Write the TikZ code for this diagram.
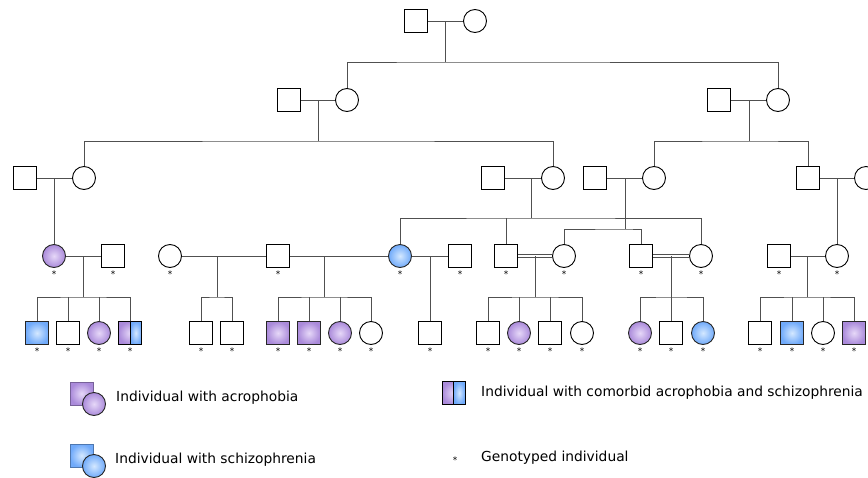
\documentclass[tikz,border=0pt]{standalone}
\usepackage{fontspec}
\setmainfont{DejaVu Sans}
\usetikzlibrary{calc}

\definecolor{acroL}{RGB}{230,216,248}
\definecolor{acroD}{RGB}{170,138,218}
\definecolor{schizL}{RGB}{212,232,255}
\definecolor{schizD}{RGB}{112,170,250}
\definecolor{pedline}{RGB}{80,80,80}

\tikzset{
  male/.style={draw=black, fill=white, rectangle, minimum size=23pt, inner sep=0pt, line width=0.9pt},
  female/.style={draw=black, fill=white, circle, minimum size=23pt, inner sep=0pt, line width=0.9pt},
  acro/.style={draw=black!85, inner color=acroL, outer color=acroD},
  schiz/.style={draw=black!85, inner color=schizL, outer color=schizD},
  both/.style={path picture={
      \shade[inner color=acroL, outer color=acroD] (path picture bounding box.south west) rectangle (path picture bounding box.north);
      \shade[inner color=schizL, outer color=schizD] (path picture bounding box.south) rectangle (path picture bounding box.north east);
      \draw[black, line width=0.9pt] (path picture bounding box.south) -- (path picture bounding box.north);}},
  geno/.style={label={[label distance=1.5pt, inner sep=1pt, font=\fontsize{9}{9}\selectfont]below:*}},
  link/.style={draw=pedline, line width=1pt},
  kin/.style={draw=pedline, line width=0.9pt, double, double distance=2pt},
  legtext/.style={anchor=west, inner sep=0pt, font=\fontsize{13.8}{16}\selectfont},
}

\begin{document}
\begin{tikzpicture}[x=1pt, y=-1pt]
\useasboundingbox (0,0) rectangle (868,477);

% generation I
\node[male] (I1) at (416,21) {};
\node[female] (I2) at (475,21) {};

% generation II
\node[male] (II1) at (289,100) {};
\node[female] (II2) at (347,100) {};
\node[male] (II3) at (719,100) {};
\node[female] (II4) at (778,100) {};

% generation III
\node[male] (III1) at (25,178) {};
\node[female] (III2) at (84,178) {};
\node[male] (III3) at (493,178) {};
\node[female] (III4) at (553,178) {};
\node[male] (III5) at (595,178) {};
\node[female] (III6) at (654,178) {};
\node[male] (III7) at (808,178) {};
\node[female] (III8) at (866,178) {};

% generation IV
\node[female, acro, geno] (IV1) at (54,256) {};
\node[male, geno] (IV2) at (113,256) {};
\node[female, geno] (IV3) at (170,256) {};
\node[male, geno] (IV4) at (278,256) {};
\node[female, schiz, geno] (IV5) at (400,256) {};
\node[male, geno] (IV6) at (460,256) {};
\node[male, geno] (IV7) at (506,256) {};
\node[female, geno] (IV8) at (564,256) {};
\node[male, geno] (IV9) at (641,256) {};
\node[female, geno] (IV10) at (701,256) {};
\node[male, geno] (IV11) at (779,256) {};
\node[female, geno] (IV12) at (837,256) {};

% generation V
\node[male, schiz, geno] (V1) at (37,333) {};
\node[male, geno] (V2) at (68,333) {};
\node[female, acro, geno] (V3) at (99,333) {};
\node[male, both, geno] (V4) at (130,333) {};
\node[male, geno] (V5) at (201,333) {};
\node[male, geno] (V6) at (232,333) {};
\node[male, acro, geno] (V7) at (278,333) {};
\node[male, acro, geno] (V8) at (309,333) {};
\node[female, acro, geno] (V9) at (340,333) {};
\node[female, geno] (V10) at (371,333) {};
\node[male, geno] (V11) at (430,333) {};
\node[male, geno] (V12) at (488,333) {};
\node[female, acro, geno] (V13) at (519,333) {};
\node[male, geno] (V14) at (550,333) {};
\node[female, geno] (V15) at (582,333) {};
\node[female, acro, geno] (V16) at (640,333) {};
\node[male, geno] (V17) at (671,333) {};
\node[female, schiz, geno] (V18) at (703,333) {};
\node[male, geno] (V19) at (760,333) {};
\node[male, schiz, geno] (V20) at (792,333) {};
\node[female, geno] (V21) at (823,333) {};
\node[male, acro, geno] (V22) at (854,333) {};

% sibship junctions
\coordinate (sI1) at (445,62);
\coordinate (sII1) at (318,141);
\coordinate (sII3) at (749,141);
\coordinate (sIII3) at (531,218);
\coordinate (sIII5) at (625,229);
\coordinate (sIV1) at (83,297);
\coordinate (sIV3) at (217,297);
\coordinate (sIV4) at (324,297);
\coordinate (sIV7) at (535,297);
\coordinate (sIV9) at (671,297);
\coordinate (sIV11) at (807,297);

% marriages
\draw[link] (I1) -- (I2);
\draw[link] (II1) -- (II2);
\draw[link] (II3) -- (II4);
\draw[link] (III1) -- (III2);
\draw[link] (III3) -- (III4);
\draw[link] (III5) -- (III6);
\draw[link] (III7) -- (III8);
\draw[link] (IV1) -- (IV2);
\draw[link] (IV3) -- (IV4);
\draw[link] (IV4) -- (IV5);
\draw[link] (IV5) -- (IV6);
\draw[kin] (IV7) -- (IV8);
\draw[kin] (IV9) -- (IV10);
\draw[link] (IV11) -- (IV12);

% descent lines
\draw[link] (sI1 |- I1) -- (sI1);
\draw[link] (II2.north) |- (sI1) -| (II4.north);
\draw[link] (sII1 |- II1) -- (sII1);
\draw[link] (III2.north) |- (sII1) -| (III4.north);
\draw[link] (sII3 |- II3) -- (sII3);
\draw[link] (III6.north) |- (sII3) -| (III7.north);
\draw[link] (IV1 |- III1) -- (IV1);
\draw[link] (sIII3 |- III3) -- (sIII3);
\draw[link] (IV5.north) |- (sIII3) -| (IV10.north);
\draw[link] (IV7.north) -- (IV7.north |- sIII3);
\draw[link] (sIII5 |- III5) -- (sIII5);
\draw[link] (IV8.north) |- (sIII5) -| (IV9.north);
\draw[link] (IV12 |- III7) -- (IV12);

\draw[link] (sIV1 |- IV1) -- (sIV1);
\draw[link] (V1.north) |- (sIV1) -| (V4.north);
\foreach \c in {V2,V3} \draw[link] (\c.north) -- (\c.north |- sIV1);
\draw[link] (sIV3 |- IV3) -- (sIV3);
\draw[link] (V5.north) |- (sIV3) -| (V6.north);
\draw[link] (sIV4 |- IV4) -- (sIV4);
\draw[link] (V7.north) |- (sIV4) -| (V10.north);
\foreach \c in {V8,V9} \draw[link] (\c.north) -- (\c.north |- sIV4);
\draw[link] (V11 |- IV5) -- (V11);
\draw[link] (sIV7 |- IV7) -- (sIV7);
\draw[link] (V12.north) |- (sIV7) -| (V15.north);
\foreach \c in {V13,V14} \draw[link] (\c.north) -- (\c.north |- sIV7);
\draw[link] (sIV9 |- IV9) -- (sIV9);
\draw[link] (V16.north) |- (sIV9) -| (V18.north);
\draw[link] (V17.north) -- (V17.north |- sIV9);
\draw[link] (sIV11 |- IV11) -- (sIV11);
\draw[link] (V19.north) |- (sIV11) -| (V22.north);
\foreach \c in {V20,V21} \draw[link] (\c.north) -- (\c.north |- sIV11);

% legend
\node[male, acro, draw=acroD!70!black] (legAs) at (81.5,393.5) {};
\node[female, acro] (legAc) at (94,404) {};
\node[legtext] (legA) at (116,398) {Individual with acrophobia};
\node[male, schiz, draw=schizD!70!black] (legSs) at (81.5,455.5) {};
\node[female, schiz] (legSc) at (94,466) {};
\node[legtext] (legS) at (115,460) {Individual with schizophrenia};
\node[male, both] (legB) at (453.5,393) {};
\node[legtext] (legBt) at (481,393) {Individual with comorbid acrophobia and schizophrenia};
\node[inner sep=0pt, font=\fontsize{9}{9}\selectfont] (legG) at (455,460) {*};
\node[legtext] (legGt) at (481,458) {Genotyped individual};
\end{tikzpicture}
\end{document}
